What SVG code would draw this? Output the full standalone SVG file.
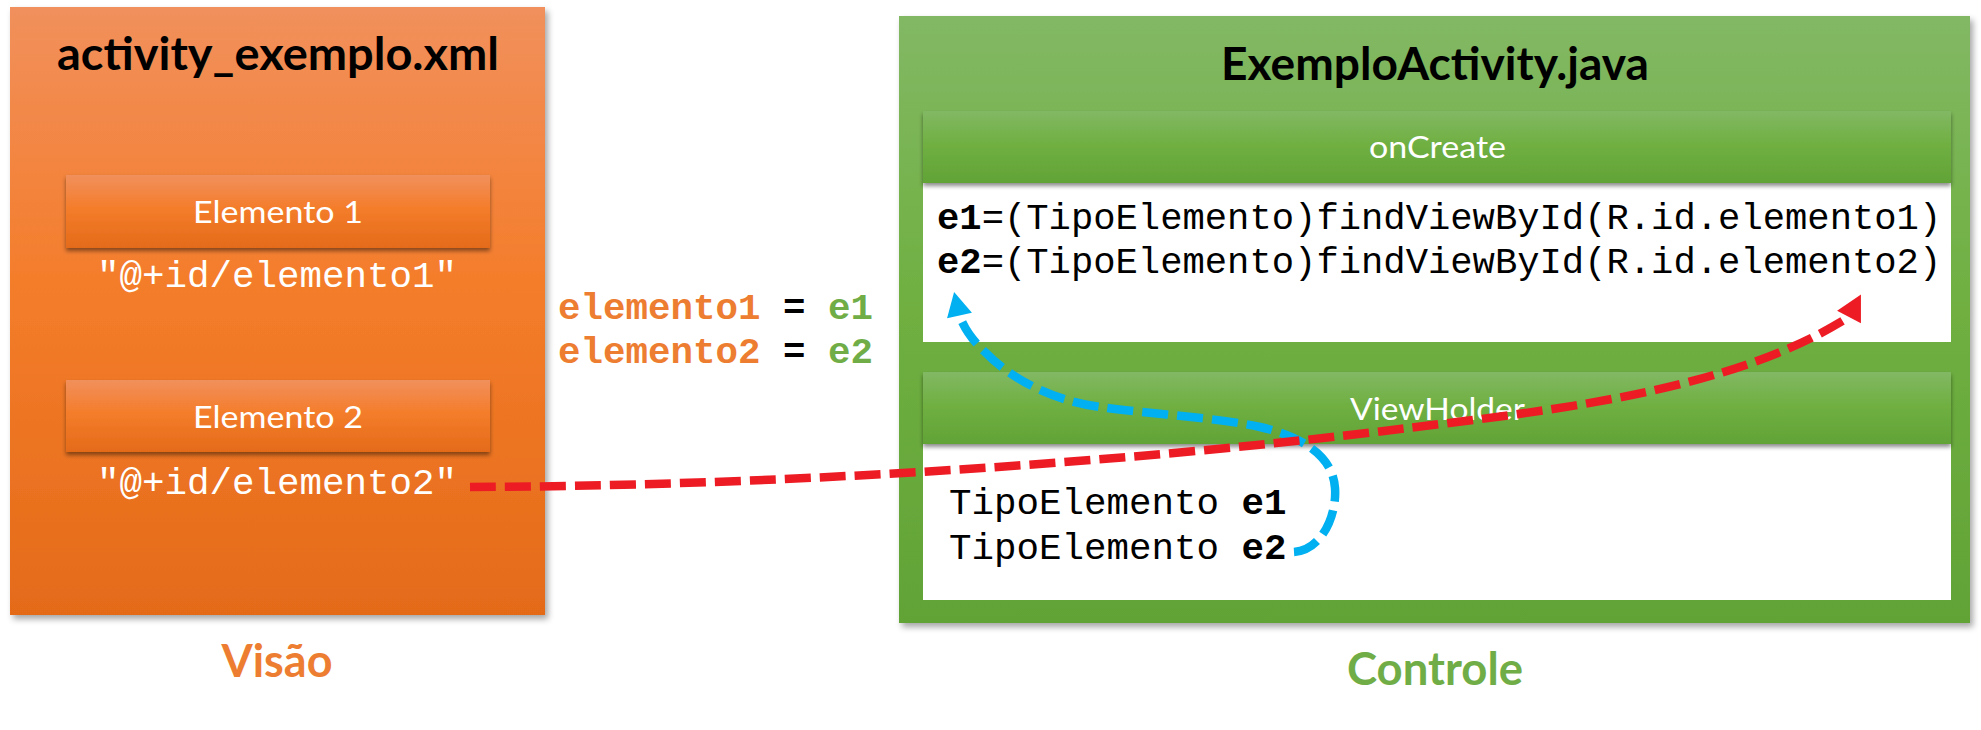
<svg xmlns="http://www.w3.org/2000/svg" width="1981" height="730" viewBox="0 0 1981 730">
<defs>
<style>
.cal{font-family:Lato,"Noto Sans","Liberation Sans",sans-serif}
.title{font-size:45px;font-weight:bold;fill:#000}
.bar{font-size:31.5px;fill:#fff}
.mono{font-family:"Courier New","Liberation Mono","DejaVu Sans Mono",monospace}
.b{font-weight:bold}
.red{fill:none;stroke:#ED1C24;stroke-width:8.5;stroke-dasharray:26 9;stroke-linecap:butt}
.blue{fill:none;stroke:#00B0F0;stroke-width:8.5;stroke-dasharray:26 9;stroke-linecap:butt}
</style>
<linearGradient id="gOr" x1="0" y1="0" x2="0" y2="1">
<stop offset="0" stop-color="#F1905C"/><stop offset="0.45" stop-color="#F47D2B"/><stop offset="1" stop-color="#E46B19"/>
</linearGradient>
<linearGradient id="gGr" x1="0" y1="0" x2="0" y2="1">
<stop offset="0" stop-color="#82B864"/><stop offset="0.45" stop-color="#70B042"/><stop offset="1" stop-color="#62A336"/>
</linearGradient>
<filter id="shBox" x="-5%" y="-5%" width="115%" height="115%">
<feDropShadow dx="3" dy="4" stdDeviation="3" flood-color="#000" flood-opacity="0.35"/>
</filter>
<filter id="shBar" x="-5%" y="-20%" width="110%" height="150%">
<feDropShadow dx="0" dy="3" stdDeviation="2" flood-color="#000" flood-opacity="0.45"/>
</filter>
<marker id="arrRed" markerUnits="userSpaceOnUse" viewBox="0 -15 30 30" markerWidth="30" markerHeight="30" refX="0" refY="0" orient="-62" overflow="visible">
<path d="M0,-13.5 L25.5,0 L0,13.5 Z" fill="#ED1C24"/>
</marker>
<marker id="arrBlue" markerUnits="userSpaceOnUse" viewBox="0 -15 30 30" markerWidth="30" markerHeight="30" refX="0" refY="0" orient="-103" overflow="visible">
<path d="M0,-12.75 L24,0 L0,12.75 Z" fill="#00B0F0"/>
</marker>
</defs>
<rect width="1981" height="730" fill="#fff"/>

<g id="node-visao">
<rect x="10" y="7" width="535" height="608" fill="url(#gOr)" filter="url(#shBox)"/>
<text class="cal title" x="278" y="70" text-anchor="middle" textLength="442" lengthAdjust="spacingAndGlyphs">activity_exemplo.xml</text>
</g>

<g id="node-elemento1">
<rect x="66" y="175" width="424" height="73" fill="url(#gOr)" filter="url(#shBar)"/>
<text class="cal bar" x="278" y="223" text-anchor="middle" textLength="170" lengthAdjust="spacingAndGlyphs">Elemento 1</text>
<text class="mono" x="277" y="287" text-anchor="middle" font-size="37.5" fill="#fff">"@+id/elemento1"</text>
</g>

<g id="node-elemento2">
<rect x="66" y="380" width="424" height="72" fill="url(#gOr)" filter="url(#shBar)"/>
<text class="cal bar" x="278" y="428" text-anchor="middle" textLength="170" lengthAdjust="spacingAndGlyphs">Elemento 2</text>
<text class="mono" x="277" y="494" text-anchor="middle" font-size="37.5" fill="#fff">"@+id/elemento2"</text>
</g>

<text id="label-visao" class="cal" x="277" y="677" text-anchor="middle" font-size="45" font-weight="bold" fill="#ED7D31" textLength="111" lengthAdjust="spacingAndGlyphs">Visão</text>

<g id="label-mapping" class="mono b" font-size="37.5">
<text x="558" y="319"><tspan fill="#ED7D31">elemento1</tspan><tspan fill="#000"> = </tspan><tspan fill="#70AD47">e1</tspan></text>
<text x="558" y="363"><tspan fill="#ED7D31">elemento2</tspan><tspan fill="#000"> = </tspan><tspan fill="#70AD47">e2</tspan></text>
</g>

<g id="node-controle">
<rect x="899" y="16" width="1071" height="607" fill="url(#gGr)" filter="url(#shBox)"/>
<text class="cal title" x="1435" y="80" text-anchor="middle" textLength="428" lengthAdjust="spacingAndGlyphs">ExemploActivity.java</text>
</g>

<g id="node-oncreate">
<rect x="923" y="183" width="1028" height="159" fill="#fff"/>
<rect x="923" y="111" width="1028" height="72" fill="url(#gGr)" filter="url(#shBar)"/>
<text class="cal bar" x="1437.5" y="158" text-anchor="middle" textLength="137" lengthAdjust="spacingAndGlyphs">onCreate</text>
<text class="mono" x="937" y="229" font-size="37.2" fill="#000"><tspan class="b">e1</tspan>=(TipoElemento)findViewById(R.id.elemento1)</text>
<text class="mono" x="937" y="273" font-size="37.2" fill="#000"><tspan class="b">e2</tspan>=(TipoElemento)findViewById(R.id.elemento2)</text>
</g>

<g id="node-viewholder">
<rect x="923" y="444" width="1028" height="156" fill="#fff"/>
<rect x="923" y="372" width="1028" height="72" fill="url(#gGr)" filter="url(#shBar)"/>
<text class="cal bar" x="1437.5" y="420" text-anchor="middle" textLength="175" lengthAdjust="spacingAndGlyphs">ViewHolder</text>
<text class="mono" x="949" y="514" font-size="37.5" fill="#000">TipoElemento <tspan class="b">e1</tspan></text>
<text class="mono" x="949" y="559" font-size="37.5" fill="#000">TipoElemento <tspan class="b">e2</tspan></text>
</g>

<text id="label-controle" class="cal" x="1435" y="685" text-anchor="middle" font-size="45" font-weight="bold" fill="#70AD47" textLength="176" lengthAdjust="spacingAndGlyphs">Controle</text>

<g id="connectors">
<path class="blue" d="M1294,552 C1322,550 1337,515 1335,488 C1333,455 1300,436 1260,427 C1220,418 1150,414 1100,407 C1050,400 1010,378 985,352 C972,340 964,328 959.5,315.5" marker-end="url(#arrBlue)"/>
<path class="red" d="M470,487 C750,486 1100,466 1400,429 C1550,410.5 1730,392 1849,317" marker-end="url(#arrRed)"/>
</g>
</svg>
